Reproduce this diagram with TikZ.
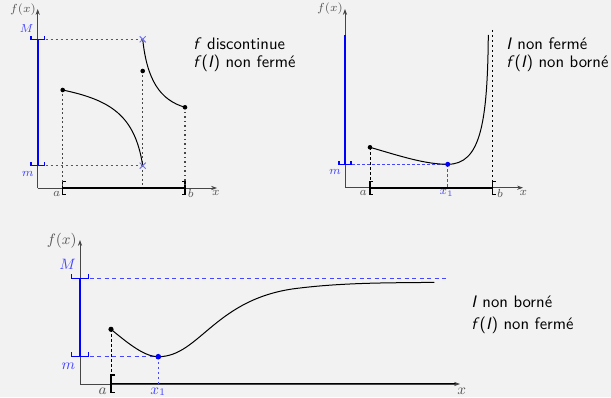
\documentclass[tikz,border=0pt]{standalone}
\usetikzlibrary{arrows.meta}
\definecolor{bg}{RGB}{242,242,242}
\definecolor{axisgray}{RGB}{70,70,70}
\definecolor{lblgray}{RGB}{85,85,85}
\definecolor{lblue}{RGB}{70,70,255}
\definecolor{xblue}{RGB}{110,110,255}
\tikzset{
  axis/.style={axisgray,line width=0.45pt,-{Stealth[length=3.5pt,width=2.5pt]}},
  interval/.style={black,line width=1.1pt},
  brk/.style={black,line width=0.8pt},
  bluebar/.style={blue,line width=1.2pt},
  bluebrk/.style={blue,line width=0.8pt},
  bluedot/.style={lblue,line width=0.8pt,dash pattern=on 1.5pt off 1.5pt},
  bluedash/.style={lblue,line width=0.6pt,dash pattern=on 2.5pt off 2pt},
  graydot/.style={axisgray,line width=0.9pt,dash pattern=on 1pt off 1.7pt},
  blackdash/.style={black,line width=0.5pt,dash pattern=on 1.5pt off 1.5pt},
  curve/.style={black,line width=0.6pt},
  lbl/.style={lblgray,inner sep=0pt,font=\scriptsize},
  blbl/.style={lblue,inner sep=0pt,font=\scriptsize},
  biglbl/.style={lblgray,inner sep=0pt,font=\small},
  bigblbl/.style={lblue,inner sep=0pt,font=\small},
  txt/.style={black,inner sep=0pt,anchor=west,font=\sffamily\normalsize},
  crossm/.style={xblue,line width=0.6pt},
}
\begin{document}
\begin{tikzpicture}[x=0.6pt,y=-0.6pt]
\fill[bg] (0,0) rectangle (611,397);
\useasboundingbox (0,0) rectangle (611,397);

% ================= Panel 1 =================
\coordinate (O1) at (37.7,188);
\coordinate (X1) at (217,188);
\coordinate (Y1) at (37.7,9);
\coordinate (A1) at (62.7,188);
\coordinate (B1) at (185,188);
\coordinate (P1a) at (62.7,90);
\coordinate (P1b) at (142.7,165.7);
\coordinate (P1c) at (142.7,39.3);
\coordinate (P1d) at (185,107.3);
\coordinate (P1e) at (142.7,71);
\coordinate (D1) at (142.7,188);

\draw[axis] (O1) -- (X1);
\draw[axis] (O1) -- (Y1);
\draw[bluebar] (37.7,39.3) -- (37.7,165.7);
\draw[interval] (A1) -- (B1);
\draw[brk] (65.9,181.5) -- (62.7,181.5) -- (62.7,194.5) -- (65.9,194.5);
\draw[brk] (181.8,181.5) -- (185,181.5) -- (185,194.5) -- (181.8,194.5);
\draw[bluebrk] (31,36) -- (31,39.3) -- (44.3,39.3) -- (44.3,36);
\draw[bluebrk] (31,162.4) -- (31,165.7) -- (44.3,165.7) -- (44.3,162.4);
\draw[bluedot] (45.5,39.3) -- (P1c);
\draw[bluedot] (45.5,165.7) -- (P1b);
\draw[graydot] (P1a) -- (A1);
\draw[graydot] (P1e) -- (D1);
\draw[graydot] (P1d) -- (B1);
\draw[curve] (P1a) .. controls (110,100) and (135,115) .. (P1b);
\draw[curve] (P1c) .. controls (147,80) and (160,100) .. (P1d);
\foreach \p in {P1b,P1c}{
  \draw[crossm] ([shift={(-3,-3)}]\p) -- ([shift={(3,3)}]\p);
  \draw[crossm] ([shift={(-3,3)}]\p) -- ([shift={(3,-3)}]\p);
}
\fill[black] (P1a) circle (2.3);
\fill[black] (P1d) circle (2.3);
\fill[black] (P1e) circle (2.3);
\node[lbl] (fx1) at (23,10) {$f(x)$};
\node[blbl] (M1) at (26.7,28.3) {$M$};
\node[blbl] (m1) at (27.7,174) {$m$};
\node[lbl] (a1) at (56.7,193.5) {$a$};
\node[lbl] (b1) at (190.7,193.5) {$b$};
\node[lbl] (x1) at (216,192.7) {$x$};
\node[txt] (t1a) at (193,43.3) {\textit{f} discontinue};
\node[txt] (t1b) at (193,63.3) {\textit{f}(\textit{I}) non fermé};

% ================= Panel 2 =================
\coordinate (O2) at (345,187.7);
\coordinate (X2) at (523,187.7);
\coordinate (Y2) at (345,9);
\coordinate (A2) at (370,187.7);
\coordinate (B2) at (492.3,187.7);
\coordinate (P2a) at (370,147.3);
\coordinate (P2m) at (447.7,164.3);
\coordinate (P2t) at (488.3,35);
\coordinate (D2) at (447.7,187.7);
\coordinate (V2) at (492.3,30);

\draw[axis] (O2) -- (X2);
\draw[axis] (O2) -- (Y2);
\draw[bluebar] (345,35) -- (345,164.3);
\draw[interval] (A2) -- (B2);
\draw[brk] (373.2,181.2) -- (370,181.2) -- (370,194.2) -- (373.2,194.2);
\draw[brk] (495.5,181.2) -- (492.3,181.2) -- (492.3,194.2) -- (495.5,194.2);
\draw[bluebrk] (339,161) -- (339,164.3) -- (351,164.3) -- (351,161);
\draw[bluedot] (352,164.3) -- (P2m);
\draw[bluedot] (P2m) -- (D2);
\draw[blackdash] (P2a) -- (A2);
\draw[blackdash] (V2) -- (B2);
\draw[curve] (P2a) .. controls (400,156) and (425,164.3) .. (P2m)
  .. controls (480,164.3) and (487.5,125) .. (P2t);
\fill[black] (P2a) circle (2.3);
\fill[blue] (P2m) circle (2.5);
\node[lbl] (fx2) at (330,8.3) {$f(x)$};
\node[blbl] (m2) at (335,171.7) {$m$};
\node[lbl] (a2) at (363.3,193) {$a$};
\node[blbl] (x12) at (446.7,193.3) {$x_1$};
\node[lbl] (b2) at (500,193) {$b$};
\node[lbl] (x2) at (523.3,192.7) {$x$};
\node[txt] (t2a) at (506,43.3) {\textit{I} non fermé};
\node[txt] (t2b) at (506,63.3) {\textit{f}(\textit{I}) non borné};

% ================= Panel 3 =================
\coordinate (O3) at (80,384);
\coordinate (X3) at (460,384);
\coordinate (Y3) at (80,240);
\coordinate (A3) at (111,384);
\coordinate (P3a) at (111,329.3);
\coordinate (P3m) at (158.3,356.7);
\coordinate (P3q) at (300,288);
\coordinate (P3e) at (434.3,282.3);
\coordinate (D3) at (158.3,384);
\coordinate (E3) at (448.3,278.3);

\draw[interval] (A3) -- (456,384);
\draw[axis] (O3) -- (X3);
\draw[axis] (O3) -- (Y3);
\draw[bluebar] (80,278.3) -- (80,356.7);
\draw[brk] (115,375) -- (111,375) -- (111,392.3) -- (115,392.3);
\draw[bluebrk] (71.7,274) -- (71.7,278.3) -- (88.3,278.3) -- (88.3,274);
\draw[bluebrk] (71.7,352.4) -- (71.7,356.7) -- (88.3,356.7) -- (88.3,352.4);
\draw[bluedash] (89.5,278.3) -- (E3);
\draw[bluedash] (89.5,356.7) -- (P3m);
\draw[bluedot] (P3m) -- (D3);
\draw[blackdash] (P3a) -- (A3);
\draw[curve] (P3a) .. controls (130,345) and (145,356.7) .. (P3m)
  .. controls (200,356.7) and (215,297) .. (P3q)
  .. controls (350,282) and (400,283) .. (P3e);
\fill[black] (P3a) circle (2.6);
\fill[blue] (P3m) circle (2.8);
\node[biglbl] (fx3) at (61.7,240.7) {$f(x)$};
\node[bigblbl] (M3) at (67.7,264.3) {$M$};
\node[bigblbl] (m3) at (68.3,366.7) {$m$};
\node[biglbl] (a3) at (102.7,391.7) {$a$};
\node[bigblbl] (x13) at (158.3,391.7) {$x_1$};
\node[biglbl] (x3) at (461.7,391.7) {$x$};
\node[txt] (t3a) at (471,302) {\textit{I} non borné};
\node[txt] (t3b) at (471,325) {\textit{f}(\textit{I}) non fermé};
\end{tikzpicture}
\end{document}
